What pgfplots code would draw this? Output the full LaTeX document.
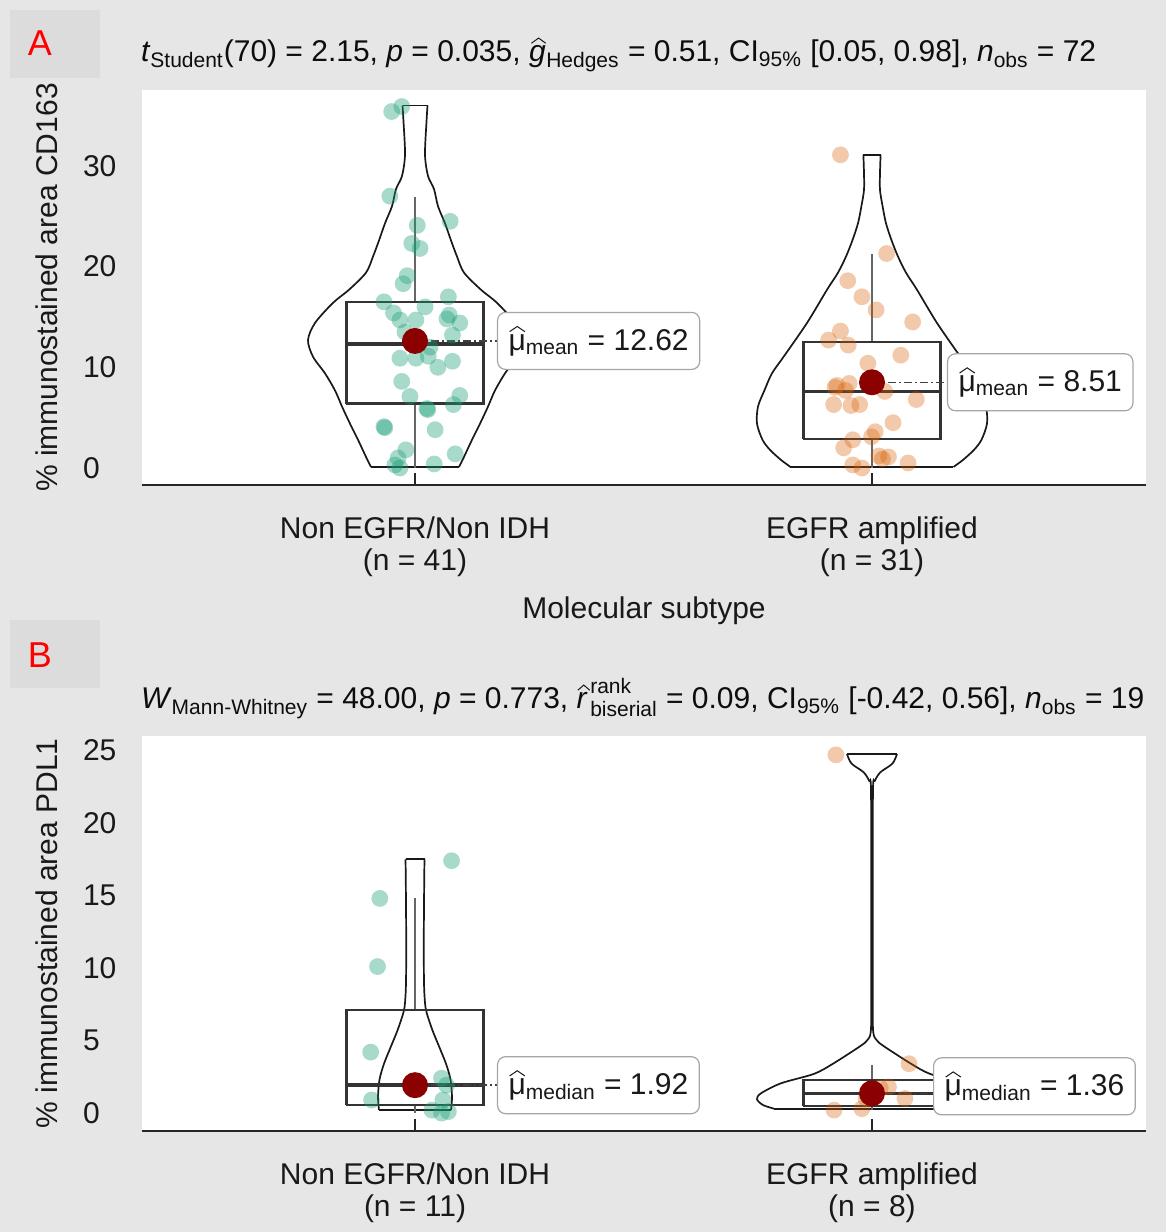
\documentclass[border=0pt]{standalone}
\usepackage{fontspec}
\setmainfont{Liberation Sans}
\usepackage{amsmath}
\usepackage{pgfplots}
\usepackage{pgfplotstable}
\pgfplotsset{compat=1.18}
\definecolor{bggray}{HTML}{E6E6E6}
\definecolor{lettergray}{HTML}{DCDCDC}
\definecolor{dgreen}{HTML}{1B9E77}
\definecolor{dorange}{HTML}{D95F02}
\definecolor{meanred}{HTML}{8B0000}

% a letter with a drawn wide hat: #1 half width, #2 horizontal shift, #3 letter
\newcommand{\hatover}[3]{\tikz[baseline=(h.base)]{\node[inner sep=0pt, outer sep=0pt, draw=none, fill=none, minimum height=0pt, minimum width=0pt, rounded corners=0pt] (h) {#3}; \draw[line width=0.5pt, rounded corners=0pt, line join=miter, draw=black!90] ([xshift=#2-#1, yshift=1.3pt]h.north) -- ([xshift=#2, yshift=3.9pt]h.north) -- ([xshift=#2+#1, yshift=1.3pt]h.north);}}

% violin half-widths (w in px, 457 px = 1 x unit)
\pgfplotstableread{
y w
36.0 12.5
34.4 11.5
31.1 10
29.0 13
27.7 19
26.0 23
24.3 30
22.6 36
21.0 42
19.4 49
17.7 66
16.4 82
14.4 100
12.7 107
11.05 102
9.4 90
7.7 80
6.1 73
4.4 65
2.8 57
1.1 49
0.1 44
}\vA
\pgfplotstableread{
y w
31.1 8.6
29.3 8
27.6 8
26.0 10.6
24.3 14
22.6 19.6
21.0 26
19.4 34
17.7 45
14.4 65
11.1 88
9.4 100
7.7 107.6
6.1 114
4.4 115
2.8 109.5
1.8 102
0.8 91
0.1 81.5
}\vAb
\pgfplotstableread{
y w
17.5 9.5
16 9.2
12 8.8
9 9
7.6 10
6.9 11.7
5.7 17.5
4.6 24
3.4 31
2.3 35.5
1.1 37
0.2 36
}\vB
\pgfplotstableread{
y w
24.76 25
24.1 20.5
23.5 8.4
22.9 2.8
22.3 1.0
15 0.8
8 0.8
5.6 1.2
5.0 5
4.6 12
3.4 39
2.7 58
2.05 91
1.36 111
0.95 115
0.55 109
0.3 98
}\vBb

% jittered observations
\pgfplotstableread{
x y
0.949 35.4
0.971 35.9
0.945 27.0
1.005 24.1
1.077 24.5
0.993 22.3
1.011 21.8
0.983 19.1
0.974 18.3
0.932 16.5
1.073 17.0
0.953 15.4
0.967 14.7
1.002 14.7
1.075 15.2
1.098 14.4
1.082 13.2
1.033 12.0
0.967 10.9
1.002 10.9
1.029 11.1
1.082 10.6
0.971 8.6
0.989 7.1
1.098 7.2
1.084 6.3
1.026 5.9
0.932 4.1
1.044 3.8
0.980 1.8
1.088 1.4
0.956 0.3
0.967 0.0
1.042 0.4
0.934 4.0
1.028 5.8
0.978 13.5
1.070 14.8
0.963 1.0
1.022 16.0
1.050 10.0
}\pA
\pgfplotstableread{
x y
1.931 31.1
2.032 21.3
1.947 18.6
1.978 17.0
2.009 15.7
2.089 14.5
1.931 13.6
1.905 12.7
1.948 12.2
2.063 11.2
1.991 10.4
1.923 8.2
1.950 8.4
1.942 7.7
2.028 7.6
2.097 6.8
1.916 6.3
1.973 6.3
2.046 4.5
2.007 3.6
1.999 3.1
1.958 2.8
1.938 2.0
2.015 1.2
2.036 1.1
2.023 0.9
1.958 0.3
1.978 0.0
2.079 0.5
1.919 8.0
1.954 6.2
}\pAb
\pgfplotstableread{
x y
1.080 17.4
0.923 14.8
0.918 10.1
0.903 4.2
1.058 2.4
0.905 0.9
1.037 0.2
1.058 0.0
1.073 0.1
1.069 1.92
1.061 0.9
}\pB
\pgfplotstableread{
x y
1.921 24.7
2.081 3.4
2.036 1.8
2.072 1.0
1.917 0.2
1.978 0.3
1.987 1.0
2.018 1.72
}\pBb

\pgfplotsset{
  panel/.style={
    scale only axis, width=502pt, height=197.5pt,
    xmin=0.4026, xmax=2.5996,
    axis background/.style={fill=white},
    axis x line*=bottom, axis y line*=left,
    x axis line style={line width=1.2pt, black!85, -},
    y axis line style={draw=none},
    xtick={1,2},
    x tick style={black!85, line width=0.9pt},
    y tick style={draw=none},
    major tick length=6pt, tick align=inside,
    tick label style={font=\fontsize{15}{16}\selectfont, text=black!90},
    xticklabel style={align=center, yshift=-12.5pt},
    yticklabel style={anchor=west, xshift=-33pt},
    /pgf/number format/assume math mode=true,
    every axis y label/.style={at={(axis description cs:-0.0946,0.5)}, rotate=90, anchor=center, font=\fontsize{15}{16}\selectfont, text=black!90},
    every axis x label/.style={at={(axis description cs:0.5,-0.338)}, anchor=base, font=\fontsize{15}{16}\selectfont, text=black!90},
    every axis title/.style={at={(axis description cs:0,1)}, anchor=base west, xshift=-4pt, yshift=14pt, font=\fontsize{15}{16}\selectfont, text=black!95},
    clip=false,
  },
  vl/.style={black!90, line width=0.85pt, smooth, tension=0.5, no markers},
  vflat/.style={black!90, line width=0.85pt, no markers},
  bx/.style={black!80, line width=1.1pt, no markers},
  md/.style={black!80, line width=1.7pt, no markers},
  wh/.style={black!60, line width=0.85pt, no markers},
  ptg/.style={only marks, draw opacity=0, mark=*, mark size=4.2pt, mark options={draw opacity=0, fill=dgreen, fill opacity=0.38}},
  pto/.style={only marks, draw opacity=0, mark=*, mark size=4.2pt, mark options={draw opacity=0, fill=dorange, fill opacity=0.33}},
  mdot/.style={only marks, mark=*, mark size=6.5pt, mark options={draw opacity=0, fill=meanred}},
  dd/.style={black!75, line width=0.7pt, no markers, dash pattern=on 4pt off 1.5pt on 1pt off 1.5pt},
}
\tikzset{lbl/.style={fill=white, draw=black!35, line width=0.6pt, rounded corners=4pt, minimum height=28.5pt, inner xsep=5.5pt, anchor=west, font=\fontsize{15}{16}\selectfont, text=black!90}}

\begin{document}
\begin{tikzpicture}
\fill[bggray] (0,0) rectangle (583pt,616pt);
\fill[lettergray] (5pt,577pt) rectangle (50pt,611pt);
\fill[lettergray] (5pt,272pt) rectangle (50pt,306pt);

% ---------------- Panel A ----------------
\begin{axis}[panel, at={(71pt,373.5pt)}, anchor=south west,
  ymin=-1.69, ymax=37.54, ytick={0,10,20,30},
  xticklabels={{Non EGFR/Non IDH\\(n = 41)},{EGFR amplified\\(n = 31)}},
  xlabel={Molecular subtype},
  ylabel={\% immunostained area CD163},
  title={\textit{t}\textsubscript{Student}(70) = 2.15, \textit{p} = 0.035, \hatover{3.6pt}{0.6pt}{\textit{g}}\textsubscript{Hedges} = 0.51, CI\textsubscript{95\%} [0.05, 0.98], \textit{n}\textsubscript{obs} = 72},
]
% points
\addplot[ptg] table[x=x,y=y] {\pA};
\addplot[pto] table[x=x,y=y] {\pAb};
% violins
\addplot[vl] table[x expr={1+\thisrow{w}/457}, y=y] {\vA};
\addplot[vl] table[x expr={1-\thisrow{w}/457}, y=y] {\vA};
\addplot[vflat] coordinates {(0.97265,36.0) (1.02735,36.0)};
\addplot[vflat] coordinates {(0.90372,0.1) (1.09628,0.1)};
\addplot[vl] table[x expr={2+\thisrow{w}/457}, y=y] {\vAb};
\addplot[vl] table[x expr={2-\thisrow{w}/457}, y=y] {\vAb};
\addplot[vflat] coordinates {(1.98118,31.1) (2.01882,31.1)};
\addplot[vflat] coordinates {(1.82166,0.1) (2.17834,0.1)};
% boxes
\addplot[wh] coordinates {(1,16.5) (1,26.9)};
\addplot[wh] coordinates {(1,6.4) (1,0.0)};
\addplot[bx] coordinates {(0.85,6.4) (1.15,6.4) (1.15,16.5) (0.85,16.5) (0.85,6.4)};
\addplot[md] coordinates {(0.85,12.3) (1.15,12.3)};
\addplot[wh] coordinates {(2,12.5) (2,21.3)};
\addplot[wh] coordinates {(2,2.9) (2,0.0)};
\addplot[bx] coordinates {(1.85,2.9) (2.15,2.9) (2.15,12.5) (1.85,12.5) (1.85,2.9)};
\addplot[md] coordinates {(1.85,7.6) (2.15,7.6)};
% means
\addplot[dd] coordinates {(1,12.62) (1.1794,12.62)};
\addplot[dd] coordinates {(2,8.51) (2.164,8.51)};
\addplot[mdot] coordinates {(1,12.62) (2,8.51)};
\node[lbl] at (axis cs:1.1794,12.62) {\hatover{3.8pt}{0pt}{μ}\textsubscript{mean} = 12.62};
\node[lbl] at (axis cs:2.164,8.51) {\hatover{3.8pt}{0pt}{μ}\textsubscript{mean} = 8.51};
\end{axis}

% ---------------- Panel B ----------------
\begin{axis}[panel, at={(71pt,50.5pt)}, anchor=south west,
  ymin=-1.24, ymax=26.0, ytick={0,5,10,15,20,25},
  xticklabels={{Non EGFR/Non IDH\\(n = 11)},{EGFR amplified\\(n = 8)}},
  ylabel={\% immunostained area PDL1},
  every axis title/.append style={yshift=-0.5pt},
  title={\textit{W}\textsubscript{Mann-Whitney} = 48.00, \textit{p} = 0.773, $\hatover{3.0pt}{0.8pt}{\textit{r}}^{\text{rank}}_{\text{biserial}}$ = 0.09, CI\textsubscript{95\%} [-0.42, 0.56], \textit{n}\textsubscript{obs} = 19},
]
\addplot[ptg] table[x=x,y=y] {\pB};
\addplot[pto] table[x=x,y=y] {\pBb};
\addplot[vl] table[x expr={1+\thisrow{w}/457}, y=y] {\vB};
\addplot[vl] table[x expr={1-\thisrow{w}/457}, y=y] {\vB};
\addplot[vflat] coordinates {(0.97921,17.5) (1.02079,17.5)};
\addplot[vflat] coordinates {(0.92123,0.2) (1.07877,0.2)};
\addplot[vl] table[x expr={2+\thisrow{w}/457}, y=y] {\vBb};
\addplot[vl] table[x expr={2-\thisrow{w}/457}, y=y] {\vBb};
\addplot[vflat] coordinates {(1.94530,24.76) (2.05470,24.76)};
\addplot[vflat] coordinates {(1.78556,0.3) (2.21444,0.3)};
\addplot[wh] coordinates {(1,7.1) (1,14.8)};
\addplot[wh] coordinates {(1,0.55) (1,0.0)};
\addplot[bx] coordinates {(0.85,0.55) (1.15,0.55) (1.15,7.1) (0.85,7.1) (0.85,0.55)};
\addplot[md] coordinates {(0.85,1.92) (1.15,1.92)};
\addplot[wh] coordinates {(2,2.3) (2,3.3)};
\addplot[wh] coordinates {(2,0.48) (2,0.2)};
\addplot[bx] coordinates {(1.85,0.48) (2.15,0.48) (2.15,2.3) (1.85,2.3) (1.85,0.48)};
\addplot[md] coordinates {(1.85,1.36) (2.15,1.36)};
\addplot[dd] coordinates {(1,1.92) (1.1794,1.92)};
\addplot[dd] coordinates {(2,1.36) (2.1335,1.36)};
\addplot[mdot] coordinates {(1,1.92) (2,1.36)};
\node[lbl] at (axis cs:1.1794,1.92) {\hatover{3.8pt}{0pt}{μ}\textsubscript{median} = 1.92};
\node[lbl] at (axis cs:2.1335,1.84) {\hatover{3.8pt}{0pt}{μ}\textsubscript{median} = 1.36};
\end{axis}

\node[text=red, font=\fontsize{18}{18}\selectfont] at (20pt,594.5pt) {A};
\node[text=red, font=\fontsize{18}{18}\selectfont] at (20pt,288.5pt) {B};
\end{tikzpicture}
\end{document}
